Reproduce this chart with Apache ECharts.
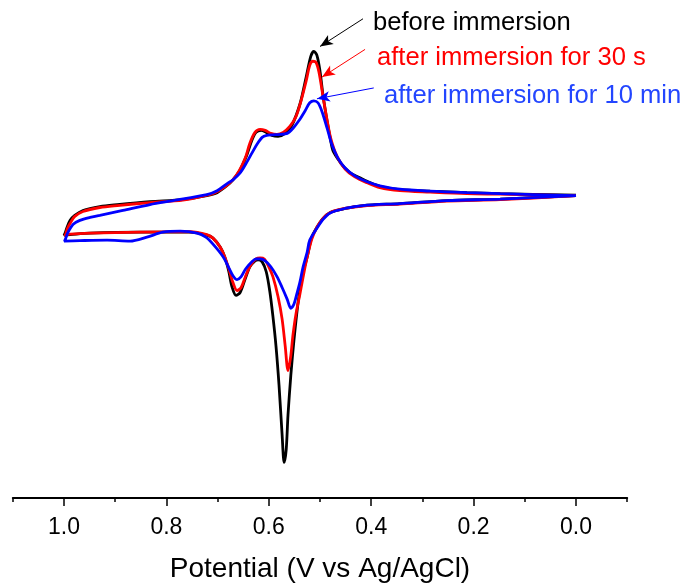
<!DOCTYPE html>
<html>
<head>
<meta charset="utf-8">
<script src="https://cdn.jsdelivr.net/npm/echarts@6/dist/echarts.min.js"></script>
<style>html,body{margin:0;padding:0;background:#fff;}#chart{width:685px;height:588px;}</style>
</head>
<body>
<div id="chart"></div>
<script>
// Potential (V vs Ag/AgCl) and current (arbitrary units) pairs
const majorTicks = [0, 0.2, 0.4, 0.6, 0.8, 1.0];

const blackCurve = [
  [0,0.25],[0.148,0.4],[0.213,0.5],[0.285,0.65],[0.344,0.8],[0.383,1.15],[0.408,1.65],[0.422,2.0],
  [0.441,2.5],[0.455,3.2],[0.465,3.9],[0.475,4.8],[0.480,6.0],[0.486,7.7],[0.494,10.3],[0.500,12.8],
  [0.506,14.4],[0.512,14.8],[0.518,14.3],[0.527,12.2],[0.539,9.5],[0.555,7.3],[0.568,6.5],[0.582,6.2],
  [0.594,6.3],[0.605,6.6],[0.615,6.8],[0.625,6.6],[0.633,5.8],[0.643,4.3],[0.656,2.8],[0.670,1.8],
  [0.682,1.2],[0.701,0.5],[0.721,0.2],[0.768,-0.2],[0.832,-0.4],[0.896,-0.7],[0.930,-0.9],[0.963,-1.3],
  [0.979,-1.8],[0.988,-2.3],[0.994,-3.0],[0.998,-3.6],[1.0,-3.8],
  [0.988,-3.75],[0.949,-3.6],[0.852,-3.5],[0.754,-3.5],[0.721,-3.8],[0.709,-4.1],[0.695,-5.0],[0.686,-6.0],
  [0.678,-7.5],[0.672,-9.0],[0.664,-9.9],[0.656,-9.6],[0.646,-8.2],[0.637,-7.0],[0.627,-6.4],[0.621,-6.3],
  [0.613,-6.5],[0.605,-7.5],[0.598,-9.5],[0.592,-12.0],[0.586,-15.0],[0.580,-19.0],[0.574,-24.0],[0.570,-26.8],
  [0.566,-25.5],[0.5625,-22.0],[0.557,-18.0],[0.551,-14.5],[0.543,-10.7],[0.535,-8.0],[0.525,-6.0],[0.516,-4.0],
  [0.506,-3.0],[0.494,-2.1],[0.480,-1.5],[0.451,-1.1],[0.416,-0.8],[0.344,-0.6],[0.252,-0.3],[0.148,-0.15],[0,0.2]
];

const redCurve = [
  [0,0.2],[0.148,0.35],[0.213,0.4],[0.285,0.55],[0.344,0.7],[0.383,1.0],[0.408,1.5],[0.432,2.1],
  [0.451,2.9],[0.467,4.2],[0.479,6.0],[0.486,7.8],[0.494,10.2],[0.502,12.7],[0.508,13.7],[0.514,13.8],
  [0.520,13.4],[0.527,11.8],[0.537,9.8],[0.547,8.2],[0.559,7.2],[0.572,6.6],[0.584,6.4],[0.596,6.5],
  [0.607,6.8],[0.617,6.9],[0.627,6.6],[0.637,5.5],[0.646,4.0],[0.658,2.7],[0.672,1.7],[0.686,1.1],
  [0.705,0.5],[0.725,0.2],[0.768,-0.25],[0.832,-0.5],[0.896,-0.8],[0.930,-1.0],[0.963,-1.4],[0.979,-1.9],
  [0.988,-2.6],[0.994,-3.2],[0.998,-3.8],[1.0,-3.8],
  [0.988,-3.7],[0.949,-3.6],[0.852,-3.5],[0.754,-3.45],[0.721,-3.75],[0.709,-4.1],[0.695,-5.0],[0.686,-6.0],
  [0.678,-7.2],[0.670,-8.6],[0.662,-9.4],[0.654,-9.1],[0.645,-7.9],[0.635,-6.8],[0.625,-6.2],[0.617,-6.1],
  [0.609,-6.2],[0.600,-7.0],[0.592,-8.0],[0.582,-10.0],[0.574,-12.3],[0.568,-15.0],[0.5625,-17.5],[0.557,-16.0],
  [0.553,-14.0],[0.547,-11.8],[0.539,-9.7],[0.531,-7.5],[0.525,-6.0],[0.516,-4.2],[0.506,-3.0],[0.494,-2.1],
  [0.480,-1.5],[0.451,-1.1],[0.416,-0.85],[0.344,-0.65],[0.252,-0.35],[0.148,-0.2],[0,0.2]
];

const blueCurve = [
  [0,0.2],[0.148,0.4],[0.213,0.5],[0.285,0.65],[0.344,0.85],[0.383,1.2],[0.408,1.6],[0.432,2.2],
  [0.451,3.0],[0.465,4.0],[0.477,5.4],[0.486,7.0],[0.496,8.7],[0.504,9.6],[0.512,9.8],[0.520,9.6],
  [0.529,8.8],[0.541,7.8],[0.553,7.0],[0.564,6.5],[0.578,6.4],[0.592,6.35],[0.604,6.3],[0.613,6.1],
  [0.623,5.4],[0.633,4.5],[0.645,3.4],[0.656,2.5],[0.670,1.8],[0.682,1.4],[0.701,0.7],[0.721,0.3],
  [0.787,-0.3],[0.832,-0.7],[0.885,-1.3],[0.930,-1.8],[0.949,-2.0],[0.969,-2.3],[0.982,-2.7],[0.992,-3.5],
  [0.998,-4.3],[1.0,-4.4],
  [0.969,-4.35],[0.916,-4.3],[0.871,-4.4],[0.838,-4.0],[0.807,-3.5],[0.773,-3.4],[0.740,-3.6],[0.723,-4.0],
  [0.709,-4.7],[0.689,-6.0],[0.678,-7.1],[0.670,-7.9],[0.662,-8.3],[0.654,-8.0],[0.645,-7.2],[0.633,-6.5],
  [0.625,-6.2],[0.617,-6.2],[0.607,-6.4],[0.596,-7.0],[0.584,-8.0],[0.574,-9.1],[0.564,-10.3],[0.557,-11.2],
  [0.551,-10.8],[0.545,-9.7],[0.539,-8.5],[0.533,-7.0],[0.525,-5.5],[0.520,-4.3],[0.506,-3.1],[0.494,-2.2],
  [0.480,-1.55],[0.451,-1.1],[0.416,-0.8],[0.344,-0.6],[0.252,-0.3],[0.148,-0.15],[0,0.2]
];

// annotation arrows: [start, end] in data coordinates
const blackArrow = [[0.416, 18.1], [0.500, 15.3]];
const redArrow   = [[0.412, 15.0], [0.496, 12.2]];
const blueArrow  = [[0.395, 11.1], [0.506, 10.0]];

const labels = ['before immersion', 'after immersion for 30 s', 'after immersion for 10 min'];

const FONT = '"Liberation Sans", Arial, Helvetica, sans-serif';

function arrowLine(arr, color) {
  return {
    silent: true,
    animation: false,
    symbol: ['none', 'arrow'],
    symbolSize: [8, 13],
    label: { show: false },
    lineStyle: { color: color, width: 1, type: 'solid' },
    data: [[{ coord: arr[0] }, { coord: arr[1] }]]
  };
}

function curve(name, data, color, arrow) {
  return {
    name: name, type: 'line', data: data, showSymbol: false, smooth: 0.3,
    lineStyle: { color: color, width: 2.8 }, itemStyle: { color: color },
    animation: false, clip: false,
    markLine: arrowLine(arrow, color)
  };
}

const chart = echarts.init(document.getElementById('chart'), null, { renderer: 'canvas' });
chart.setOption({
  backgroundColor: '#ffffff',
  animation: false,
  grid: { left: 12.8, right: 57.8, top: 0, bottom: 84 },
  xAxis: [{
    type: 'value', inverse: true, min: -0.1, max: 1.1, interval: 0.1,
    axisLine: { show: true, onZero: false, lineStyle: { color: '#000', width: 2 } },
    axisTick: { show: true, inside: false, length: 4, lineStyle: { color: '#000', width: 1.5 } },
    axisLabel: { show: false },
    splitLine: { show: false }
  }, {
    type: 'value', inverse: true, min: -0.1, max: 1.1, position: 'bottom', offset: 0,
    axisLine: { show: false, onZero: false },
    axisTick: { show: true, inside: false, length: 8, customValues: majorTicks, lineStyle: { color: '#000', width: 1.5 } },
    axisLabel: { show: true, customValues: majorTicks, margin: 18, color: '#000', fontSize: 23, fontFamily: FONT,
      formatter: v => v.toFixed(1) },
    splitLine: { show: false },
    name: 'Potential (V vs Ag/AgCl)', nameLocation: 'middle', nameGap: 57,
    nameTextStyle: { color: '#000', fontSize: 28, fontFamily: FONT }
  }],
  yAxis: { type: 'value', min: -30.4, max: 20, show: false, splitLine: { show: false } },
  series: [
    curve('before immersion', blackCurve, '#000000', blackArrow),
    curve('after immersion for 30 s', redCurve, '#ff0000', redArrow),
    curve('after immersion for 10 min', blueCurve, '#0000ff', blueArrow)
  ],
  graphic: [
    { type: 'text', style: { text: labels[0], x: 373, y: 23, font: '25.6px ' + FONT, fill: '#000000', textVerticalAlign: 'middle' } },
    { type: 'text', style: { text: labels[1], x: 377, y: 58, font: '25.6px ' + FONT, fill: '#ff0000', textVerticalAlign: 'middle' } },
    { type: 'text', style: { text: labels[2], x: 384, y: 96, font: '25.6px ' + FONT, fill: '#2346ff', textVerticalAlign: 'middle' } }
  ]
});
</script>
</body>
</html>
